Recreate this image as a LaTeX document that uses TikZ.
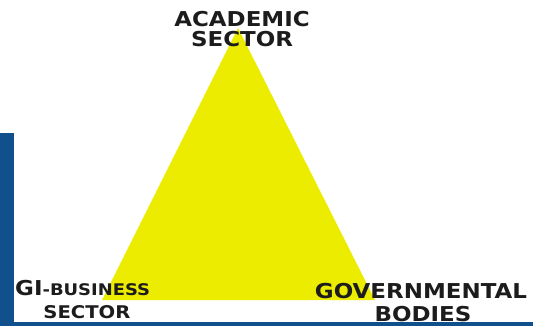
\documentclass[tikz,border=0pt]{standalone}
\usepackage{fontspec}
\setmainfont[FakeStretch=1.12]{DejaVu Sans}
\usetikzlibrary{calc}
\definecolor{triyellow}{RGB}{236,236,0}
\definecolor{slideblue}{RGB}{16,80,140}
\definecolor{labelgray}{RGB}{28,28,28}

\begin{document}
\begin{tikzpicture}[x=1pt,y=-1pt,
  lbl/.style={font=\bfseries\fontsize{20.5}{24}\selectfont,text=labelgray,inner sep=0pt},
  sclbl/.style={font=\bfseries\fontsize{17.5}{20}\selectfont,text=labelgray,inner sep=0pt}]
\useasboundingbox (0,0) rectangle (533,326);
\fill[white] (0,0) rectangle (533,326);
% slide background
\fill[slideblue] (0,133) rectangle (14,326);
\fill[slideblue] (0,322) rectangle (533,326);
% triangle
\coordinate (top) at (238,28);
\coordinate (left) at (102,300);
\coordinate (right) at (375,300);
\fill[triyellow] (top) -- (left) -- (right) -- cycle;
% labels
\node[lbl,anchor=base] (academic) at (242,27) {ACADEMIC};
\node[lbl,anchor=base] (acsector) at (242,47) {SECTOR};
\node[lbl,anchor=base west] (business) at (15,295) {GI{\fontsize{16}{18}\selectfont-BUSINESS}};
\node[sclbl,anchor=base] (bussector) at (87,318) {SECTOR};
\node[lbl,anchor=base] (governmental) at (421,298) {GOVERNMENTAL};
\node[lbl,anchor=base] (bodies) at (423,321) {BODIES};
\end{tikzpicture}
\end{document}
